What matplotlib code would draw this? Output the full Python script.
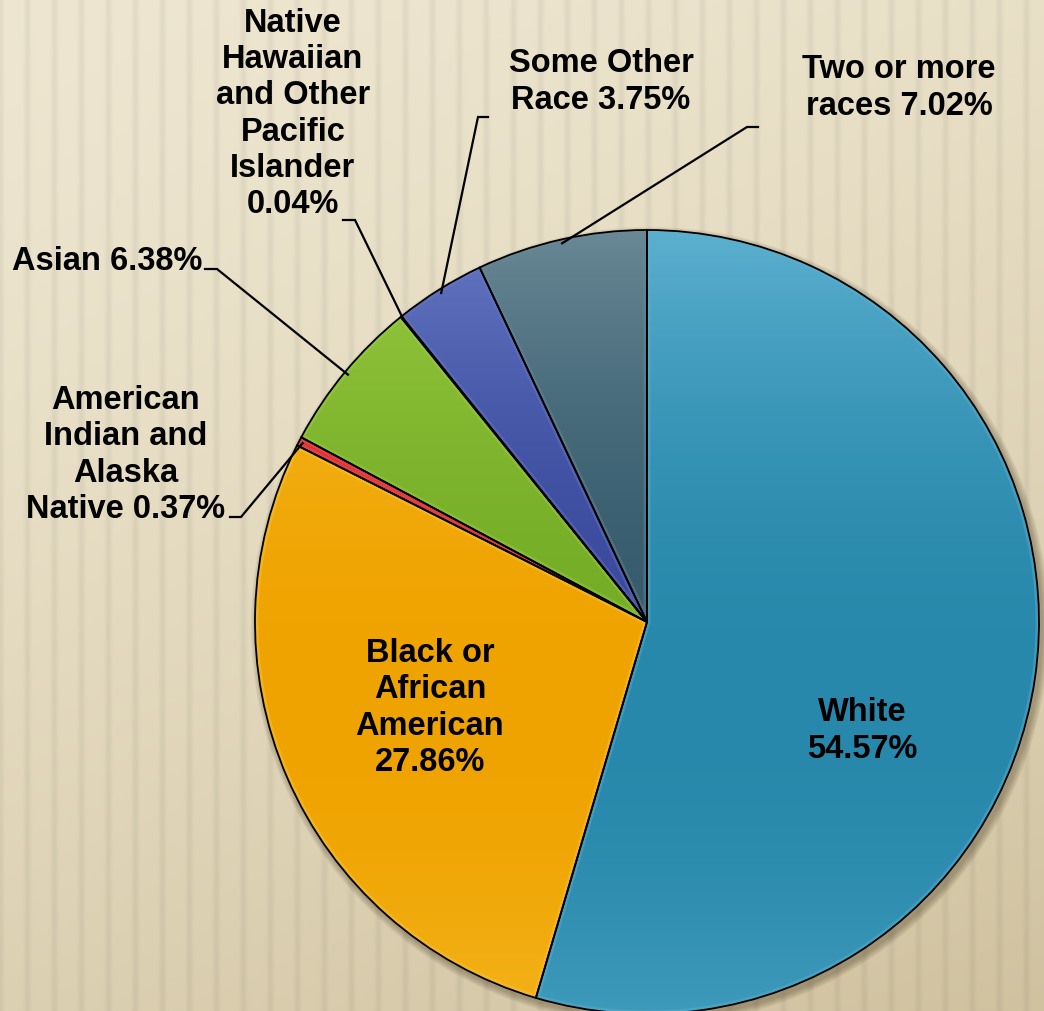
import numpy as np
import matplotlib
matplotlib.use('Agg')
import matplotlib.pyplot as plt
from matplotlib.colors import to_rgb
from matplotlib.patches import Circle, Wedge

# ---- data ----
races = ['White', 'Black or African American', 'American Indian and Alaska Native',
         'Asian', 'Native Hawaiian and Other Pacific Islander', 'Some Other Race',
         'Two or more races']
shares = [54.57, 27.86, 0.37, 6.38, 0.04, 3.75, 7.02]
label_heads = ['White\n', 'Black or\nAfrican\nAmerican\n', 'American\nIndian and\nAlaska\nNative ',
               'Asian ', 'Native\nHawaiian\nand Other\nPacific\nIslander\n', 'Some Other\nRace ',
               'Two or more\nraces ']

# light / dark shade of each slice
light_cols = ['#5CB0CF', '#F8C53A', '#F05454', '#9CCC44', '#9A70B8', '#6678C4', '#6A8896']
dark_cols = ['#2788AB', '#EFA300', '#D02828', '#74AC26', '#7A4E98', '#38479A', '#335A6B']

W, H = 1044, 1011
fig = plt.figure(figsize=(W / 100, H / 100), dpi=100)
ax = fig.add_axes([0, 0, 1, 1])

# beige striped backdrop
X, Y = np.meshgrid(np.arange(W), np.arange(H))
t = np.clip(0.3 * X / W + 0.7 * Y / H, 0, 1)
c_top = np.array(to_rgb('#EEE6D0'))
c_bot = np.array(to_rgb('#D0C29F'))
bg = c_top + (c_bot - c_top) * (t ** 1.4)[..., None]
stripe = np.clip(np.cos(2 * np.pi * X / 27.0), 0, 1) ** 3
bg = bg * (1 - 0.05 * stripe)[..., None]
ax.imshow(np.clip(bg, 0, 1), extent=[0, W, 0, H], origin='upper', zorder=0,
          interpolation='bilinear', aspect='auto')

cx, cy, R = 647, H - 622, 392

# soft shadow at the lower right
for i in range(6):
    ax.add_patch(Circle((cx + 3, cy - 4), R + 1 + i * 1.2, color='#4a3c22',
                        alpha=0.07, lw=0, zorder=1))

wedges, _ = ax.pie(shares, startangle=90, counterclock=False, center=(cx, cy),
                   radius=R, colors=dark_cols,
                   wedgeprops=dict(edgecolor='black', linewidth=1.3))

# vertical gradient fill inside each slice
rows = np.linspace(0, 1, 256)
wprof = np.clip(((rows - 0.6) / 0.6) ** 2, 0, 1)
for w, lc, dc in zip(wedges, light_cols, dark_cols):
    lc, dc = np.array(to_rgb(lc)), np.array(to_rgb(dc))
    img = dc + (lc - dc) * wprof[:, None]
    img = np.repeat(img[:, None, :], 2, axis=1)
    im = ax.imshow(img, extent=[cx - R, cx + R, cy - R, cy + R], origin='upper',
                   zorder=1.5, interpolation='bilinear', aspect='auto')
    im.set_clip_path(w)
    # light bevel just inside the slice border
    rim = Wedge(w.center, w.r, w.theta1, w.theta2, facecolor='none',
                edgecolor=lc, lw=5, alpha=0.45, zorder=1.8)
    ax.add_patch(rim)
    rim.set_clip_path(w)
    w.set_facecolor('none')
    w.set_zorder(2)

font = dict(fontsize=23.5, fontweight='bold', family=['Liberation Sans', 'DejaVu Sans'],
            color='black', linespacing=1.21, ha='center', va='center', zorder=5)

# label centres (pixel coords from top-left)
label_pos = [(862, 731), (430, 708), (126, 455), (107, 261), (293, 114), (601, 82), (899, 88)]
for head, v, (lx, ly) in zip(label_heads, shares, label_pos):
    ax.text(lx, H - ly, f'{head}{v:.2f}%', **font)

# leader lines: slice index -> stub start, stub end (pixel coords)
leaders = {2: ((230, 517), (241, 517)),
           3: ((205, 269), (217, 269)),
           4: ((343, 220), (355, 220)),
           5: ((488, 117), (478, 117)),
           6: ((758, 127), (747, 127))}
for i, (p0, p1) in leaders.items():
    w = wedges[i]
    a = np.deg2rad((w.theta1 + w.theta2) / 2)
    ex, ey = cx + 0.99 * R * np.cos(a), cy + 0.99 * R * np.sin(a)
    ax.plot([p0[0], p1[0], ex], [H - p0[1], H - p1[1], ey], color='black', lw=1.6,
            zorder=4, solid_joinstyle='miter')

ax.set_xlim(0, W)
ax.set_ylim(0, H)
ax.set_aspect('auto')
ax.axis('off')
fig.savefig('out.png', dpi=100)
